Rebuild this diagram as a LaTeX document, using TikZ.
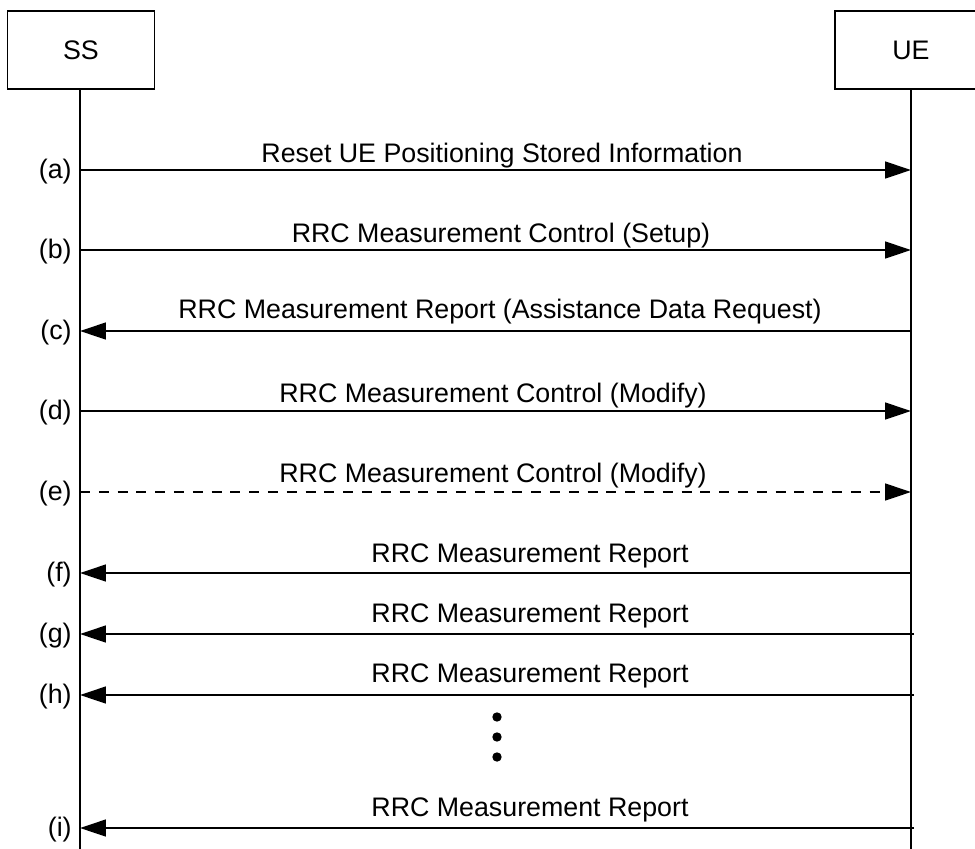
\documentclass[tikz,border=0pt]{standalone}
\usepackage{fontspec}
\setmainfont{Liberation Sans}
\usetikzlibrary{arrows.meta}
\tikzset{
	entity/.style={draw, line width=0.7pt, inner sep=0pt, minimum height=1.56cm},
	lifeline/.style={line width=1.1pt, color=black},
	msg/.style={line width=0.8pt, color=black, -{Triangle[length=14.7pt,width=9.6pt]}},
	msgtext/.style={anchor=base, inner sep=0pt},
	tag/.style={anchor=east, inner sep=0pt},
}
\begin{document}
\begin{tikzpicture}[x=0.02cm, y=-0.02cm, font=\fontsize{15.25}{18}\selectfont]
					\clip (0,0) rectangle (975,849);
					\node[entity, minimum width=2.94cm](ss) at (81,50){SS};
					\node[entity, minimum width=3.04cm](ue) at (911,50){UE};
					\coordinate (ss-end) at (80,849);
					\coordinate (ue-end) at (911,849);
					\draw [lifeline](ss.south -| ss-end)--(ss-end);
					\draw [lifeline](ue.south)--(ue-end);
					
					\coordinate (ss-a) at (80,170);  \coordinate (ue-a) at (911,170);
					\coordinate (ss-b) at (80,250);  \coordinate (ue-b) at (911,250);
					\coordinate (ss-c) at (80,331);  \coordinate (ue-c) at (911,331);
					\coordinate (ss-d) at (80,411);  \coordinate (ue-d) at (911,411);
					\coordinate (ss-e) at (80,492);  \coordinate (ue-e) at (911,492);
					\coordinate (ss-f) at (80,573);  \coordinate (ue-f) at (911,573);
					\coordinate (ss-g) at (80,634);  \coordinate (ue-g) at (914,634);
					\coordinate (ss-h) at (80,695);  \coordinate (ue-h) at (914,695);
					\coordinate (ss-i) at (80,828);  \coordinate (ue-i) at (914,828);
					
					\node[tag](tag-a) at (72,172){(a)};
					\node[tag](tag-b) at (72,252){(b)};
					\node[tag](tag-c) at (72,333){(c)};
					\node[tag](tag-d) at (72,413){(d)};
					\node[tag](tag-e) at (72,494){(e)};
					\node[tag](tag-f) at (72,575){(f)};
					\node[tag](tag-g) at (72,636){(g)};
					\node[tag](tag-h) at (72,697){(h)};
					\node[tag](tag-i) at (72,830){(i)};
					
					\draw [msg](ss-a)--(ue-a);
					\draw [msg](ss-b)--(ue-b);
					\draw [msg](ue-c)--(ss-c);
					\draw [msg](ss-d)--(ue-d);
					\draw [msg, dash pattern=on 5.7pt off 5pt](ss-e)--(ue-e);
					\draw [msg](ue-f)--(ss-f);
					\draw [msg](ue-g)--(ss-g);
					\draw [msg](ue-h)--(ss-h);
					\draw [msg](ue-i)--(ss-i);
					
					\node[msgtext](txt-a) at (502,162){Reset UE Positioning Stored Information};
					\node[msgtext](txt-b) at (501,242){RRC Measurement Control (Setup)};
					\node[msgtext](txt-c) at (500,318){RRC Measurement Report (Assistance Data Request)};
					\node[msgtext](txt-d) at (493,402){RRC Measurement Control (Modify)};
					\node[msgtext](txt-e) at (493,482){RRC Measurement Control (Modify)};
					\node[msgtext](txt-f) at (530,562){RRC Measurement Report};
					\node[msgtext](txt-g) at (530,622){RRC Measurement Report};
					\node[msgtext](txt-h) at (530,682){RRC Measurement Report};
					\node[msgtext](txt-i) at (530,816){RRC Measurement Report};
					
					\fill (497,717) circle (0.094cm);
					\fill (497,737) circle (0.094cm);
					\fill (497,757) circle (0.094cm);
\end{tikzpicture}
\end{document}
